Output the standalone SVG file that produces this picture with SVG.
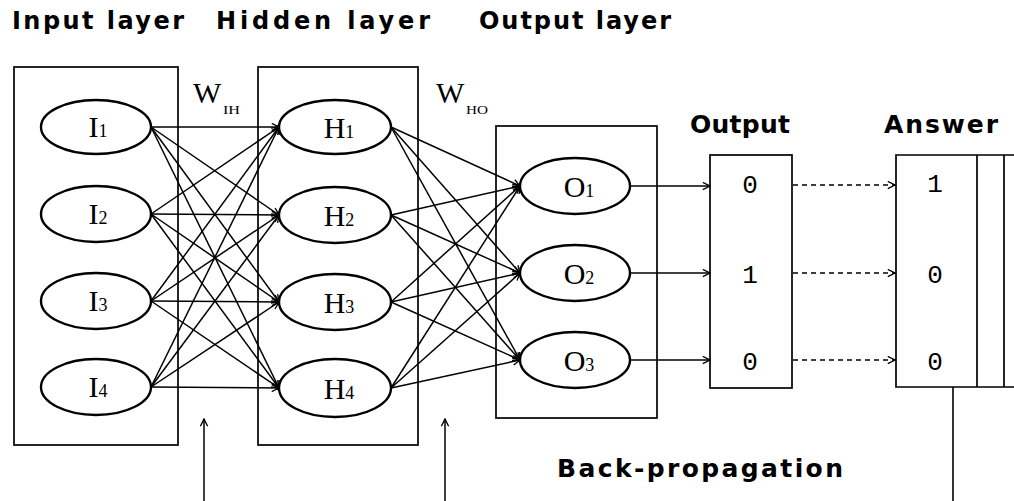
<svg xmlns="http://www.w3.org/2000/svg" width="1014" height="501" viewBox="0 0 1014 501">
<style>
.bg{fill:#fff}
.box{fill:none;stroke:#000;stroke-width:1.7}
.node{fill:#fff;stroke:#000;stroke-width:2.4}
.lbl{font-family:"Liberation Serif","Times New Roman",serif;font-size:30px;fill:#000;text-anchor:middle}
.sub{font-size:18px}
.title{font-family:"DejaVu Sans","Liberation Sans",Arial,sans-serif;font-weight:bold;font-size:24px;fill:#000}
.title2{font-family:"DejaVu Sans","Liberation Sans",Arial,sans-serif;font-weight:bold;font-size:25px;fill:#000}
.mono{font-family:"Liberation Mono","Courier New",monospace;font-size:26px;fill:#000;text-anchor:middle}
.w{font-family:"Liberation Serif","Times New Roman",serif;font-size:30px;fill:#000}
.ws{font-family:"Liberation Serif","Times New Roman",serif;font-size:12px;fill:#000}
.c{fill:none;stroke:#000;stroke-width:1.5;marker-end:url(#arr)}
.d{fill:none;stroke:#000;stroke-width:1.6;stroke-dasharray:5 4;marker-end:url(#arr)}
.p{fill:none;stroke:#000;stroke-width:1.6}
.dot{fill:#000}
</style>
<defs>
<marker id="arr" viewBox="0 0 10 10" refX="9" refY="5" markerWidth="9" markerHeight="9" markerUnits="userSpaceOnUse" orient="auto">
<path d="M1,1 L9,5 L1,9" fill="none" stroke="#000" stroke-width="1.5"/>
</marker>
</defs>
<rect class="bg" x="0" y="0" width="1014" height="501"/>

<g id="titles">
<text class="title" x="12" y="29" textLength="172" lengthAdjust="spacing">Input layer</text>
<text class="title" x="216" y="29" textLength="214" lengthAdjust="spacing">Hidden layer</text>
<text class="title" x="479" y="29" textLength="192" lengthAdjust="spacing">Output layer</text>
<text class="title2" x="690" y="133" textLength="100" lengthAdjust="spacing">Output</text>
<text class="title2" x="884" y="133" textLength="114" lengthAdjust="spacing">Answer</text>
<text class="title2" x="557" y="477" textLength="286" lengthAdjust="spacing">Back-propagation</text>
</g>

<g id="weights">
<text class="w" x="193" y="103">W</text><text class="ws" x="223" y="114" textLength="17" lengthAdjust="spacingAndGlyphs">IH</text>
<text class="w" x="436" y="103">W</text><text class="ws" x="466" y="114" textLength="22" lengthAdjust="spacingAndGlyphs">HO</text>
</g>

<g id="layer-boxes">
<rect id="input-layer" class="box" x="14" y="67" width="164" height="378"/>
<rect id="hidden-layer" class="box" x="258" y="67" width="160" height="378"/>
<rect id="output-layer" class="box" x="496" y="126" width="161" height="292"/>
</g>

<g id="connectors">
<line class="c" x1="151" y1="127" x2="279" y2="127"/>
<line class="c" x1="151" y1="127" x2="279" y2="215"/>
<line class="c" x1="151" y1="127" x2="279" y2="302"/>
<line class="c" x1="151" y1="127" x2="279" y2="388"/>
<line class="c" x1="151" y1="214" x2="279" y2="127"/>
<line class="c" x1="151" y1="214" x2="279" y2="215"/>
<line class="c" x1="151" y1="214" x2="279" y2="302"/>
<line class="c" x1="151" y1="214" x2="279" y2="388"/>
<line class="c" x1="151" y1="301" x2="279" y2="127"/>
<line class="c" x1="151" y1="301" x2="279" y2="215"/>
<line class="c" x1="151" y1="301" x2="279" y2="302"/>
<line class="c" x1="151" y1="301" x2="279" y2="388"/>
<line class="c" x1="151" y1="387" x2="279" y2="127"/>
<line class="c" x1="151" y1="387" x2="279" y2="215"/>
<line class="c" x1="151" y1="387" x2="279" y2="302"/>
<line class="c" x1="151" y1="387" x2="279" y2="388"/>
<line class="c" x1="391" y1="127" x2="520" y2="186"/>
<line class="c" x1="391" y1="127" x2="520" y2="273"/>
<line class="c" x1="391" y1="127" x2="520" y2="360"/>
<line class="c" x1="391" y1="215" x2="520" y2="186"/>
<line class="c" x1="391" y1="215" x2="520" y2="273"/>
<line class="c" x1="391" y1="215" x2="520" y2="360"/>
<line class="c" x1="391" y1="302" x2="520" y2="186"/>
<line class="c" x1="391" y1="302" x2="520" y2="273"/>
<line class="c" x1="391" y1="302" x2="520" y2="360"/>
<line class="c" x1="391" y1="388" x2="520" y2="186"/>
<line class="c" x1="391" y1="388" x2="520" y2="273"/>
<line class="c" x1="391" y1="388" x2="520" y2="360"/>
<line class="c" x1="630" y1="186" x2="710" y2="186"/>
<line class="c" x1="630" y1="273" x2="710" y2="273"/>
<line class="c" x1="630" y1="360" x2="710" y2="360"/>
<line class="d" x1="793" y1="185" x2="895" y2="185"/>
<line class="d" x1="793" y1="273" x2="895" y2="273"/>
<line class="d" x1="793" y1="360" x2="895" y2="360"/>
<line class="c" x1="204" y1="501" x2="204" y2="419"/>
<line class="c" x1="445" y1="501" x2="445" y2="419"/>
<line class="p" x1="953" y1="387" x2="953" y2="501"/>
<circle class="dot" cx="279" cy="127" r="2.5"/>
<circle class="dot" cx="279" cy="215" r="2.5"/>
<circle class="dot" cx="279" cy="302" r="2.5"/>
<circle class="dot" cx="279" cy="388" r="2.5"/>
<circle class="dot" cx="520" cy="186" r="2.5"/>
<circle class="dot" cx="520" cy="273" r="2.5"/>
<circle class="dot" cx="520" cy="360" r="2.5"/>
</g>

<g id="I1"><ellipse class="node" cx="96" cy="127" rx="55" ry="27"/><text class="lbl" x="98" y="137">I<tspan class="sub">1</tspan></text></g>
<g id="I2"><ellipse class="node" cx="96" cy="214" rx="55" ry="28"/><text class="lbl" x="98" y="224">I<tspan class="sub">2</tspan></text></g>
<g id="I3"><ellipse class="node" cx="96" cy="301" rx="55" ry="28"/><text class="lbl" x="98" y="311">I<tspan class="sub">3</tspan></text></g>
<g id="I4"><ellipse class="node" cx="96" cy="387" rx="55" ry="28"/><text class="lbl" x="98" y="397">I<tspan class="sub">4</tspan></text></g>

<g id="H1"><ellipse class="node" cx="335" cy="127" rx="56" ry="27"/><text class="lbl" x="339" y="138">H<tspan class="sub">1</tspan></text></g>
<g id="H2"><ellipse class="node" cx="335" cy="215" rx="56" ry="28"/><text class="lbl" x="339" y="226">H<tspan class="sub">2</tspan></text></g>
<g id="H3"><ellipse class="node" cx="335" cy="302" rx="56" ry="28"/><text class="lbl" x="339" y="313">H<tspan class="sub">3</tspan></text></g>
<g id="H4"><ellipse class="node" cx="335" cy="388" rx="56" ry="29"/><text class="lbl" x="339" y="399">H<tspan class="sub">4</tspan></text></g>

<g id="O1"><ellipse class="node" cx="575" cy="186" rx="55" ry="28"/><text class="lbl" x="579" y="197" font-size="31">O<tspan class="sub">1</tspan></text></g>
<g id="O2"><ellipse class="node" cx="575" cy="273" rx="55" ry="28"/><text class="lbl" x="579" y="284" font-size="31">O<tspan class="sub">2</tspan></text></g>
<g id="O3"><ellipse class="node" cx="575" cy="360" rx="55" ry="28"/><text class="lbl" x="579" y="371" font-size="31">O<tspan class="sub">3</tspan></text></g>

<g id="output-box">
<rect class="box" x="710" y="155" width="82" height="233"/>
<text class="mono" x="750" y="193">0</text>
<text class="mono" x="750" y="283">1</text>
<text class="mono" x="750" y="370">0</text>
</g>

<g id="answer-box">
<path class="box" d="M1014,155 H896 V387 H1014 M977,155 V387 M1004,155 V387"/>
<text class="mono" x="935" y="192">1</text>
<text class="mono" x="935" y="283">0</text>
<text class="mono" x="935" y="370">0</text>
</g>
</svg>
